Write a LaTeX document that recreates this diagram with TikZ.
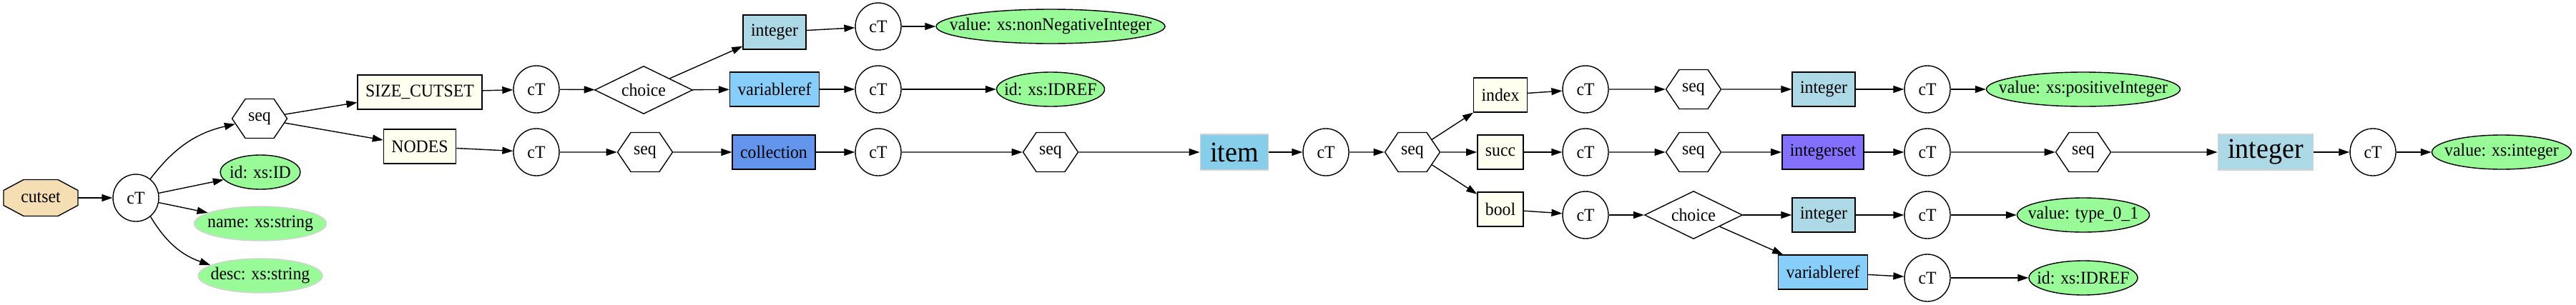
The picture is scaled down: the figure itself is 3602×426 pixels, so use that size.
\documentclass[tikz,border=0pt]{standalone}
\usepackage{fontspec}
\setmainfont{Liberation Serif}[FakeStretch=0.95]
\usetikzlibrary{arrows.meta,shapes.geometric,shapes.symbols,backgrounds}
\definecolor{wheat}{HTML}{F5DEB3}
\definecolor{ivory}{HTML}{FFFFF0}
\definecolor{lightblue}{HTML}{ADD8E6}
\definecolor{lightskyblue}{HTML}{87CEFA}
\definecolor{cornflower}{HTML}{6495ED}
\definecolor{slateblue}{HTML}{8470FF}
\definecolor{skyblue}{HTML}{87CEEB}
\definecolor{palegreen}{HTML}{98FB98}
\definecolor{lightgray}{HTML}{D3D3D3}
\begin{document}
\begin{tikzpicture}[x=1pt,y=-1pt,
  every node/.style={font=\fontsize{25}{29}\selectfont},
  link/.style={-{Triangle[length=15pt,width=10pt]},line width=1.4pt},
  ct/.style={ellipse,draw,fill=white,line width=1.4pt,minimum width=64pt,minimum height=66pt,inner sep=0pt},
  seqhex/.style={signal,signal to=east and west,signal pointer angle=112,draw,fill=white,line width=1.4pt,minimum width=77pt,minimum height=55pt,inner sep=0pt},
  choicedia/.style={diamond,aspect=2,draw,fill=white,line width=1.4pt,minimum width=137pt,minimum height=67pt,inner sep=0pt},
  elem/.style={rectangle,draw,line width=1.4pt,minimum height=48pt,inner xsep=11pt},
  bigbox/.style={rectangle,draw=lightgray,line width=1.4pt,minimum height=50pt,inner xsep=14pt,font=\fontsize{40}{46}\selectfont},
  attr/.style={ellipse,draw,fill=palegreen,line width=1.4pt,minimum height=48pt,inner sep=0pt},
  octo/.style={draw,fill=wheat,line width=1.4pt}]
  \useasboundingbox (0,0) rectangle (3602,426);
  % root
  \node[minimum width=104pt,minimum height=51pt] (cutset) at (57,277) {cutset};
  \begin{scope}[on background layer]
    \draw[octo,shift={(cutset.center)}] (-24,-25.5) -- (24,-25.5) -- (52,-10.5) -- (52,10.5)
      -- (24,25.5) -- (-24,25.5) -- (-52,10.5) -- (-52,-10.5) -- cycle;
  \end{scope}
  \node[ct] (ct0) at (190,277) {cT};
  \node[seqhex] (seq0) at (363,166) {seq};
  \node[attr,minimum width=112pt] (id0) at (364,241) {\makebox[0pt]{id: xs:ID}};
  \node[attr,draw=lightgray,minimum width=185pt] (name0) at (364,313) {\makebox[0pt]{name: xs:string}};
  \node[attr,draw=lightgray,minimum width=174pt] (desc0) at (364,386) {\makebox[0pt]{desc: xs:string}};
  % SIZE_CUTSET branch
  \node[elem,fill=ivory] (sizecut) at (587,129) {SIZE\_CUTSET};
  \node[ct] (ct1) at (750,125) {cT};
  \node[choicedia] (choice1) at (900,126) {choice};
  \node[elem,fill=lightblue] (int1) at (1083,45) {integer};
  \node[ct] (ct11) at (1228,37) {cT};
  \node[attr,minimum width=320pt] (val11) at (1469,37) {\makebox[0pt]{value: xs:nonNegativeInteger}};
  \node[elem,fill=lightskyblue] (var1) at (1083,125) {variableref};
  \node[ct] (ct12) at (1228,125) {cT};
  \node[attr,minimum width=151pt] (idref12) at (1469,125) {\makebox[0pt]{id: xs:IDREF}};
  % NODES branch
  \node[elem,fill=ivory] (nodes) at (587,205) {NODES};
  \node[ct] (ct2) at (750,213) {cT};
  \node[seqhex] (seq2) at (902,213) {seq};
  \node[elem,fill=cornflower] (coll) at (1082,213) {collection};
  \node[ct] (ct21) at (1228,213) {cT};
  \node[seqhex] (seq21) at (1469,213) {seq};
  \node[bigbox,fill=skyblue] (item) at (1726,213) {item};
  \node[ct] (ct3) at (1854,213) {cT};
  \node[seqhex] (seq3) at (1975,213) {seq};
  % item children
  \node[elem,fill=ivory] (index) at (2098,133) {index};
  \node[elem,fill=ivory] (succ) at (2098,213) {succ};
  \node[elem,fill=ivory] (bool) at (2098,293) {bool};
  \node[ct] (ct4) at (2217,125) {cT};
  \node[ct] (ct5) at (2217,213) {cT};
  \node[ct] (ct6) at (2217,301) {cT};
  \node[seqhex] (seq4) at (2368,125) {seq};
  \node[seqhex] (seq5) at (2368,213) {seq};
  \node[choicedia] (choice6) at (2368,301) {choice};
  \node[elem,fill=lightblue] (int4) at (2550,125) {integer};
  \node[elem,fill=slateblue] (intset5) at (2549,213) {integerset};
  \node[elem,fill=lightblue] (int6) at (2550,301) {integer};
  \node[elem,fill=lightskyblue] (var6) at (2549,381) {variableref};
  \node[ct] (ct41) at (2695,125) {cT};
  \node[ct] (ct51) at (2695,213) {cT};
  \node[ct] (ct61) at (2695,301) {cT};
  \node[ct] (ct62) at (2695,389) {cT};
  \node[attr,minimum width=271pt] (val41) at (2913,125) {\makebox[0pt]{value: xs:positiveInteger}};
  \node[seqhex] (seq51) at (2913,213) {seq};
  \node[attr,minimum width=185pt] (val61) at (2913,301) {\makebox[0pt]{value: type\_0\_1}};
  \node[attr,minimum width=152pt] (idref62) at (2913,389) {\makebox[0pt]{id: xs:IDREF}};
  \node[bigbox,fill=lightblue] (int51) at (3168,213) {integer};
  \node[ct] (ct52) at (3318,213) {cT};
  \node[attr,minimum width=195pt] (val52) at (3498,213) {\makebox[0pt]{value: xs:integer}};
  % connectors
  \draw[link] (cutset) -- (ct0);
  \draw[link] (ct0) to[bend left=20] (seq0);
  \draw[link] (ct0) -- (id0);
  \draw[link] (ct0) -- (name0);
  \draw[link] (ct0) to[bend right=20] (desc0);
  \draw[link] (seq0) -- (sizecut);
  \draw[link] (seq0) -- (nodes);
  \draw[link] (sizecut) -- (ct1);
  \draw[link] (ct1) -- (choice1);
  \draw[link] (choice1) -- (int1);
  \draw[link] (choice1) -- (var1);
  \draw[link] (int1) -- (ct11);
  \draw[link] (ct11) -- (val11);
  \draw[link] (var1) -- (ct12);
  \draw[link] (ct12) -- (idref12);
  \draw[link] (nodes) -- (ct2);
  \draw[link] (ct2) -- (seq2);
  \draw[link] (seq2) -- (coll);
  \draw[link] (coll) -- (ct21);
  \draw[link] (ct21) -- (seq21);
  \draw[link] (seq21) -- (item);
  \draw[link] (item) -- (ct3);
  \draw[link] (ct3) -- (seq3);
  \draw[link] (seq3) -- (index);
  \draw[link] (seq3) -- (succ);
  \draw[link] (seq3) -- (bool);
  \draw[link] (index) -- (ct4);
  \draw[link] (succ) -- (ct5);
  \draw[link] (bool) -- (ct6);
  \draw[link] (ct4) -- (seq4);
  \draw[link] (ct5) -- (seq5);
  \draw[link] (ct6) -- (choice6);
  \draw[link] (seq4) -- (int4);
  \draw[link] (seq5) -- (intset5);
  \draw[link] (choice6) -- (int6);
  \draw[link] (choice6) -- (var6);
  \draw[link] (int4) -- (ct41);
  \draw[link] (intset5) -- (ct51);
  \draw[link] (int6) -- (ct61);
  \draw[link] (var6) -- (ct62);
  \draw[link] (ct41) -- (val41);
  \draw[link] (ct51) -- (seq51);
  \draw[link] (ct61) -- (val61);
  \draw[link] (ct62) -- (idref62);
  \draw[link] (seq51) -- (int51);
  \draw[link] (int51) -- (ct52);
  \draw[link] (ct52) -- (val52);
\end{tikzpicture}
\end{document}
